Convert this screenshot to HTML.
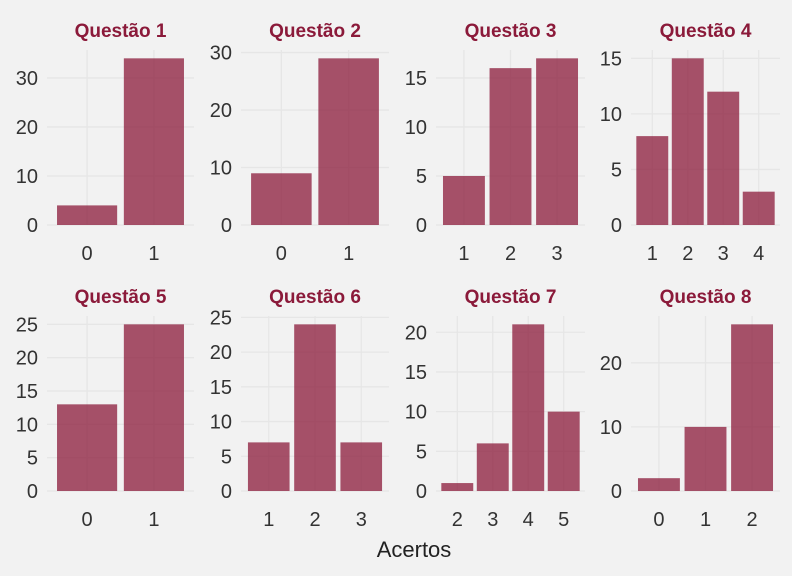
<!DOCTYPE html>
<html><head><meta charset="utf-8"><style>
html,body{margin:0;padding:0;background:#f2f2f2;}
svg{display:block;font-family:"Liberation Sans",sans-serif;}
</style></head><body>
<svg id="chart" width="792" height="576" viewBox="0 0 792 576">
<rect width="792" height="576" fill="#f2f2f2"/>
<text x="414" y="557" text-anchor="middle" font-size="22" fill="#222">Acertos</text>
</svg>
<script>
const q1Cats=["0","1"], q1Vals=[4,34], q1Ticks=[0,10,20,30];
const q2Cats=["0","1"], q2Vals=[9,29], q2Ticks=[0,10,20,30];
const q3Cats=["1","2","3"], q3Vals=[5,16,17], q3Ticks=[0,5,10,15];
const q4Cats=["1","2","3","4"], q4Vals=[8,15,12,3], q4Ticks=[0,5,10,15];
const q5Cats=["0","1"], q5Vals=[13,25], q5Ticks=[0,5,10,15,20,25];
const q6Cats=["1","2","3"], q6Vals=[7,24,7], q6Ticks=[0,5,10,15,20,25];
const q7Cats=["2","3","4","5"], q7Vals=[1,6,21,10], q7Ticks=[0,5,10,15,20];
const q8Cats=["0","1","2"], q8Vals=[2,10,26], q8Ticks=[0,10,20];
const titles=["Questão 1","Questão 2","Questão 3","Questão 4","Questão 5","Questão 6","Questão 7","Questão 8"];

const panels=[[q1Cats,q1Vals,q1Ticks],[q2Cats,q2Vals,q2Ticks],[q3Cats,q3Vals,q3Ticks],[q4Cats,q4Vals,q4Ticks],
[q5Cats,q5Vals,q5Ticks],[q6Cats,q6Vals,q6Ticks],[q7Cats,q7Vals,q7Ticks],[q8Cats,q8Vals,q8Ticks]];
const colX=[[47,194],[241,389],[436,585],[631,780]];
const rowY=[[50,225],[316,491]];
const NS="http://www.w3.org/2000/svg";
const svg=document.getElementById('chart');
function mk(tag,attrs,parent){const e=document.createElementNS(NS,tag);for(const k in attrs)e.setAttribute(k,attrs[k]);(parent||svg).appendChild(e);return e;}
panels.forEach((p,i)=>{
  const [cats,vals,ticks]=p;
  const [x0,x1]=colX[i%4], [yt,yb]=rowY[Math.floor(i/4)];
  const g=mk('g',{});
  
  
  const n=cats.length, step=(x1-x0)/(n+0.2);
  const xs=k=>x0+step*(0.6+k);
  const maxV=Math.max(...vals)*1.05;
  const ys=v=>yb-(v/maxV)*(yb-yt);
  ticks.forEach(t=>{
    const y=ys(t);
    const l=mk('line',{x1:x0,x2:x1,y1:y,y2:y,stroke:'#e6e6e6','stroke-width':1.3},g);
    
    
    const tx=mk('text',{x:x0-9,y:y+7,'text-anchor':'end','font-size':20,fill:'#333'},g);
    tx.textContent=t;
    
    
  });
  cats.forEach((c,k)=>{
    const x=xs(k);
    const l=mk('line',{x1:x,x2:x,y1:yt,y2:yb,stroke:'#e6e6e6','stroke-width':1.3},g);
    
    
  });
  cats.forEach((c,k)=>{
    const x=xs(k), w=step*0.9;
    const r=mk('rect',{x:x-w/2,y:ys(vals[k]),width:w,height:yb-ys(vals[k]),fill:'#8b1a3a','fill-opacity':0.75},g);
    
    
    const tx=mk('text',{x:x,y:yb+35,'text-anchor':'middle','font-size':20,fill:'#333'},g);
    tx.textContent=c;
    
    
  });
  const tt=mk('text',{x:(x0+x1)/2,y:yt-13,'text-anchor':'middle','font-size':19,'font-weight':'bold',fill:'#8b1a3a'},g);
  tt.textContent=titles[i];
  
  
});
</script>
</body></html>
